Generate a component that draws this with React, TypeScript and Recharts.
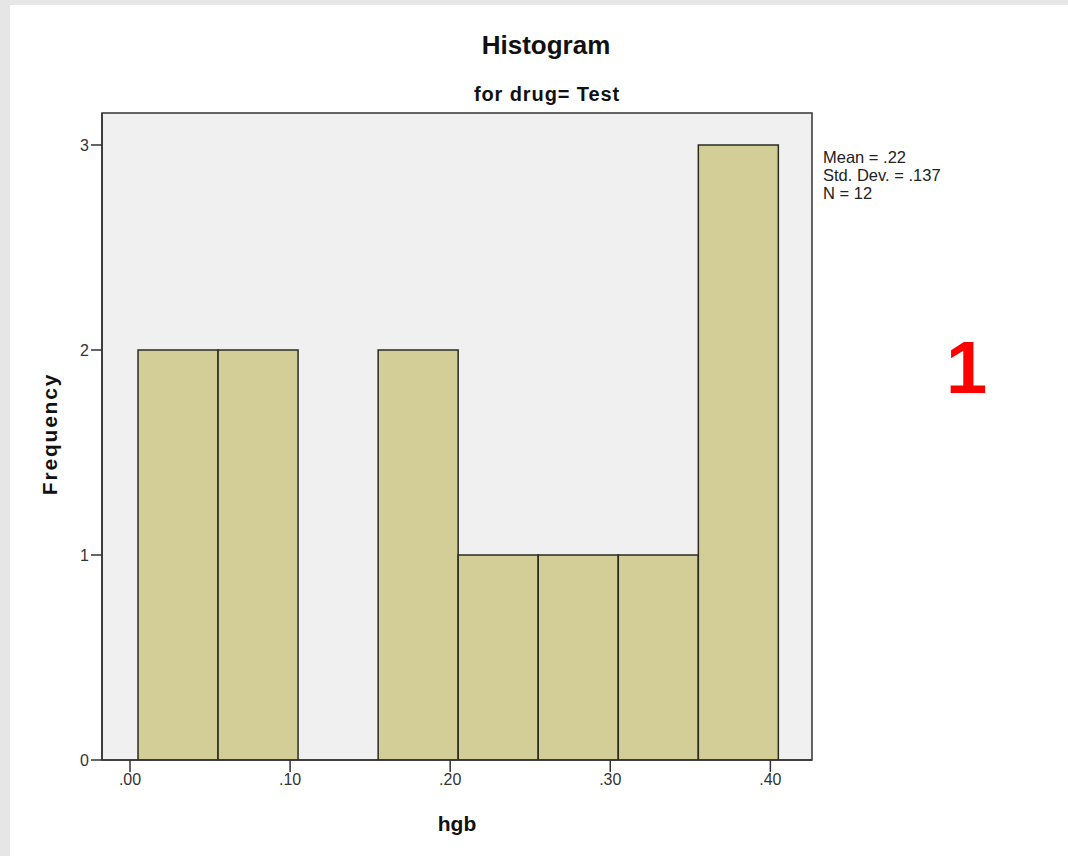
import { Bar, CartesianGrid, ComposedChart, ReferenceArea, XAxis, YAxis } from 'recharts';

// bin midpoints (bins are .05 wide, from .005 to .405)
const binMids = [0.03, 0.08, 0.13, 0.18, 0.23, 0.28, 0.33, 0.38];
const frequencies = [2, 2, 0, 2, 1, 1, 1, 3];
const xTicks = [0, 0.1, 0.2, 0.3, 0.4];
const yTicks = [0, 1, 2, 3];
const statLines = ['Mean = .22', 'Std. Dev. = .137', 'N = 12'];

const data = binMids.map((x, i) => ({ x, freq: frequencies[i] }));

const FONT = '"Liberation Sans", Arial, sans-serif';
const X_DOMAIN: [number, number] = [-0.0175, 0.426];
const Y_DOMAIN: [number, number] = [0, 3.156];

const fmtX = (v: number) => v.toFixed(2).replace(/^0/, '');

export default function App() {
  return (
    <div style={{ position: 'absolute', left: 0, top: 0, width: 1068, height: 856, background: '#e6e6e6', fontFamily: FONT }}>
      <div style={{ position: 'absolute', left: 10, top: 5, width: 1058, height: 851, background: '#fff' }} />
      <div style={{ position: 'absolute', left: 0, top: 0 }}>
        <ComposedChart
          width={1068}
          height={856}
          data={data}
          margin={{ top: 113, right: 256, left: 42, bottom: 66 }}
          barCategoryGap={0}
        >
          <CartesianGrid horizontal={false} vertical={false} fill="#f0f0f0" />
          <XAxis
            type="number"
            dataKey="x"
            domain={X_DOMAIN}
            allowDataOverflow
            ticks={xTicks}
            tickFormatter={fmtX}
            height={30}
            tickSize={12}
            axisLine={{ stroke: '#333', strokeWidth: 1.5 }}
            tickLine={{ stroke: '#333', strokeWidth: 1.5 }}
            tick={{ fill: '#333', fontSize: 16, fontFamily: FONT }}
          />
          <YAxis
            type="number"
            domain={Y_DOMAIN}
            allowDataOverflow
            ticks={yTicks}
            width={60}
            tickSize={11}
            axisLine={{ stroke: '#333', strokeWidth: 1.5 }}
            tickLine={{ stroke: '#333', strokeWidth: 1.5 }}
            tick={{ fill: '#333', fontSize: 16, fontFamily: FONT }}
          />
          <Bar
            dataKey="freq"
            barSize={80}
            fill="#d3ce97"
            stroke="#2b2b22"
            strokeWidth={1.5}
            isAnimationActive={false}
          />
          <ReferenceArea
            x1={X_DOMAIN[0]}
            x2={X_DOMAIN[1]}
            y1={Y_DOMAIN[0]}
            y2={Y_DOMAIN[1]}
            fill="none"
            fillOpacity={0}
            stroke="#333"
            strokeWidth={1.5}
            ifOverflow="visible"
          />
        </ComposedChart>
      </div>
      <div style={{ position: 'absolute', left: 446, width: 200, top: 30, textAlign: 'center', fontWeight: 'bold', fontSize: 26, color: '#111' }}>
        Histogram
      </div>
      <div style={{ position: 'absolute', left: 397, width: 300, top: 83, textAlign: 'center', fontWeight: 'bold', fontSize: 20, letterSpacing: 0.9, color: '#111' }}>
        for drug= Test
      </div>
      <div style={{ position: 'absolute', left: 357, width: 200, top: 812, textAlign: 'center', fontWeight: 'bold', fontSize: 21, color: '#111' }}>
        hgb
      </div>
      <div
        style={{
          position: 'absolute',
          left: 50 - 100,
          top: 435 - 13,
          width: 200,
          textAlign: 'center',
          transform: 'rotate(-90deg)',
          fontWeight: 'bold',
          fontSize: 21,
          letterSpacing: 1.8,
          color: '#111',
        }}
      >
        Frequency
      </div>
      <div style={{ position: 'absolute', left: 823, top: 148, fontSize: 16.5, lineHeight: '18px', color: '#222' }}>
        {statLines.map((s) => (
          <div key={s}>{s}</div>
        ))}
      </div>
      <div style={{ position: 'absolute', left: 946, top: 328, fontSize: 74, fontWeight: 'bold', color: '#ff0000', lineHeight: '80px' }}>
        1
      </div>
    </div>
  );
}
